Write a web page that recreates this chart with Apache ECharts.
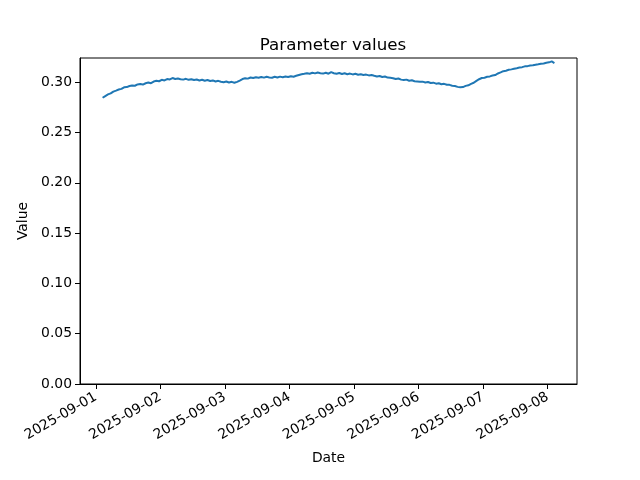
<!DOCTYPE html>
<html>
<head>
<meta charset="utf-8">
<script src="https://cdn.jsdelivr.net/npm/echarts@6/dist/echarts.min.js"></script>
<style>html,body{margin:0;padding:0;background:#fff}#c{width:640px;height:480px}</style>
</head>
<body>
<div id="c"></div>
<script>
// Data (hourly readings starting 2025-09-01 02:30 UTC)
const startTime = Date.UTC(2025, 8, 1, 2, 30);
const stepMs = 3600000;
const values = [
  0.2845,0.2862,0.2878,0.2888,0.2906,0.2916,0.2927,0.2933,0.2949,0.2951,0.2962,0.2967,0.2964,0.2977,0.2981,0.2976,0.2989,0.2996,0.2990,0.3006,0.3013,0.3009,0.3023,0.3017,0.3031,
  0.3027,0.3041,0.3031,0.3036,0.3029,0.3025,0.3033,0.3023,0.3029,0.3021,0.3026,0.3017,0.3024,0.3014,0.3021,0.3011,0.3017,0.3007,0.3013,0.3004,0.2999,0.3007,0.2997,0.3003,0.2994,
  0.3003,0.3016,0.3031,0.3038,0.3035,0.3046,0.3041,0.3049,0.3043,0.3051,0.3045,0.3053,0.3047,0.3044,0.3053,0.3046,0.3055,0.3049,0.3056,0.3051,0.3059,0.3054,0.3063,0.3071,0.3079,
  0.3083,0.3089,0.3084,0.3093,0.3087,0.3096,0.3089,0.3085,0.3093,0.3084,0.3099,0.3089,0.3083,0.3091,0.3081,0.3088,0.3079,0.3085,0.3077,0.3083,0.3074,0.3079,0.3071,0.3075,0.3067,
  0.3071,0.3063,0.3057,0.3061,0.3051,0.3056,0.3045,0.3043,0.3039,0.3031,0.3036,0.3025,0.3021,0.3025,0.3014,0.3019,0.3009,0.3007,0.3005,0.3005,0.2997,0.3001,0.2991,0.2995,0.2985,
  0.2989,0.2979,0.2983,0.2974,0.2973,0.2965,0.2961,0.2953,0.2949,0.2951,0.2963,0.2969,0.2983,0.2994,0.3013,0.3029,0.3041,0.3044,0.3053,0.3057,0.3066,0.3071,0.3086,0.3097,0.3109,
  0.3114,0.3123,0.3127,0.3133,0.3139,0.3146,0.3149,0.3157,0.3159,0.3166,0.3167,0.3173,0.3177,0.3183,0.3185,0.3193,0.3197,0.3206,0.3190
];
const tickDates = ['2025-09-01','2025-09-02','2025-09-03','2025-09-04','2025-09-05','2025-09-06','2025-09-07','2025-09-08'];
const yTickValues = [0, 0.05, 0.10, 0.15, 0.20, 0.25, 0.30];

const data = values.map((v, i) => [startTime + i * stepMs, v]);
const tMin = data[0][0], tMax = data[data.length - 1][0];
const pad = (tMax - tMin) * 0.05;
const tickTimes = tickDates.map(s => Date.parse(s + 'T00:00:00Z'));
function fmt(ms) {
  const d = new Date(ms);
  const p = n => String(n).padStart(2, '0');
  return d.getUTCFullYear() + '-' + p(d.getUTCMonth() + 1) + '-' + p(d.getUTCDate());
}
const font = 'DejaVu Sans';
const chart = echarts.init(document.getElementById('c'), null, {renderer: 'canvas'});
chart.setOption({
  animation: false,
  backgroundColor: '#fff',
  title: {
    text: 'Parameter values', left: 328, top: 32, textAlign: 'center',
    textStyle: {fontFamily: font, fontSize: 16.7, fontWeight: 'normal', color: '#000'}
  },
  grid: {left: 80, right: 63, top: 58, bottom: 96, show: true, borderColor: '#000', borderWidth: 1, backgroundColor: 'transparent'},
  xAxis: {
    type: 'value', min: tMin - pad, max: tMax + pad,
    name: 'Date', nameLocation: 'middle', nameGap: 67,
    nameTextStyle: {fontFamily: font, fontSize: 13.9, color: '#000'},
    axisLine: {show: true, lineStyle: {color: '#000', width: 1}},
    axisTick: {show: true, length: 5, lineStyle: {color: '#000'}, customValues: tickTimes},
    axisLabel: {customValues: tickTimes, formatter: v => fmt(v), rotate: 30, margin: 12,
      fontFamily: font, fontSize: 13.9, color: '#000'},
    splitLine: {show: false}
  },
  yAxis: {
    type: 'value', min: 0, max: 0.324,
    name: 'Value', nameLocation: 'middle', nameGap: 43, nameRotate: 90,
    nameTextStyle: {fontFamily: font, fontSize: 13.9, color: '#000'},
    axisLine: {show: true, lineStyle: {color: '#000', width: 1}},
    axisTick: {show: true, length: 5, lineStyle: {color: '#000'}, customValues: yTickValues},
    axisLabel: {customValues: yTickValues, formatter: v => v.toFixed(2), margin: 8,
      fontFamily: font, fontSize: 13.9, color: '#000'},
    splitLine: {show: false}
  },
  series: [{
    type: 'line', data: data, showSymbol: false, symbol: 'none',
    lineStyle: {color: '#1f77b4', width: 2}, itemStyle: {color: '#1f77b4'}
  }]
});
</script>
</body>
</html>
